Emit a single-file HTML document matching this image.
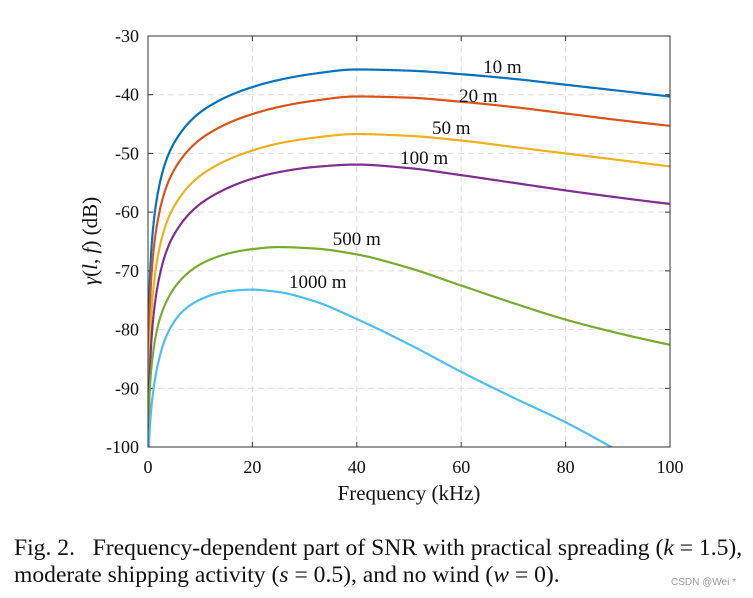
<!DOCTYPE html>
<html><head><meta charset="utf-8"><style>
body{margin:0;background:#fff;width:753px;height:598px;overflow:hidden;font-family:"Liberation Serif",serif}
svg{position:absolute;left:0;top:0}
.cap{position:absolute;left:14px;font-size:23.6px;color:#111;white-space:nowrap;line-height:27px}
</style></head><body>
<svg id="chart" width="753" height="598"></svg>
<div class="cap" style="top:535px">Fig. 2.&nbsp;&nbsp; Frequency-dependent part of SNR with practical spreading (<i>k</i> = 1.5),</div>
<div class="cap" style="top:562px">moderate shipping activity (<i>s</i> = 0.5), and no wind (<i>w</i> = 0).</div>
<div style="position:absolute;left:671px;top:577px;font:10px 'Liberation Sans',sans-serif;color:#999">CSDN @Wei *</div>
<script>
const freqs=[0.1,0.3,0.6,1,1.5,2,3,4,6,8,10,13,16,20,25,32,40,50,60,70,80,90,100];
const s10=[-95,-74,-67,-62.5,-58.8,-56.2,-52.5,-50,-46.8,-44.6,-43,-41.3,-40,-38.7,-37.5,-36.4,-35.7,-35.9,-36.5,-37.3,-38.3,-39.3,-40.3];
const s20=[-100,-78.6,-71.6,-67.1,-63.4,-60.8,-57.1,-54.6,-51.4,-49.2,-47.6,-45.9,-44.6,-43.3,-42.1,-41,-40.3,-40.5,-41.2,-42.1,-43.2,-44.3,-45.3];
const s50=[-106,-84.8,-77.8,-73.3,-69.6,-67,-63.3,-60.8,-57.6,-55.4,-53.8,-52.1,-50.8,-49.5,-48.3,-47.3,-46.7,-47,-47.8,-48.9,-50,-51.1,-52.2];
const s100=[-110,-89.6,-82.6,-78.1,-74.4,-71.8,-68.1,-65.6,-62.4,-60.2,-58.6,-56.9,-55.6,-54.3,-53.2,-52.3,-51.9,-52.5,-53.7,-55,-56.3,-57.5,-58.6];
const s500=[-96,-91,-87,-83.8,-81,-79,-76.3,-74.4,-71.8,-70.1,-68.9,-67.7,-66.9,-66.3,-65.95,-66.2,-67.2,-69.5,-72.5,-75.5,-78.3,-80.6,-82.6];
const s1000=[-103,-97.5,-93.8,-90.5,-87.6,-85.5,-82.3,-80.2,-77.5,-75.9,-74.9,-73.9,-73.4,-73.2,-73.6,-75.2,-78.2,-82.5,-87.2,-91.6,-95.8,-100.6,-105.5];
const seriesNames=["10 m","20 m","50 m","100 m","500 m","1000 m"];
const xTicks=[0,20,40,60,80,100];
const yTicks=[-30,-40,-50,-60,-70,-80,-90,-100];
const colors=["#0072bd","#d95319","#edb120","#7e2f8e","#77ac30","#4dbeee"];
const labelPos=[[64.2,-36.3],[59.6,-41.2],[54.4,-46.7],[48.3,-51.8],[35.4,-65.6],[27,-72.9]];
const X0=148,X1=670,Y0=36,Y1=447;
const sx=f=>X0+(f-0)/(100-0)*(X1-X0);
const sy=v=>Y0+(-30-v)/(70)*(Y1-Y0);
const svg=document.getElementById('chart');const NS='http://www.w3.org/2000/svg';
function mk(t,a,p){const e=document.createElementNS(NS,t);for(const k in a)e.setAttribute(k,a[k]);(p||svg).appendChild(e);return e;}
const defs=mk('defs',{});const cp=mk('clipPath',{id:'clip'},defs);mk('rect',{x:X0,y:Y0-2,width:X1-X0,height:Y1-Y0+2},cp);
for(const t of xTicks){if(t>0&&t<100){const g=mk('line',{x1:sx(t),x2:sx(t),y1:Y0,y2:Y1,stroke:'#dcdcdc','stroke-dasharray':'6,4'});
}
mk('line',{x1:sx(t),x2:sx(t),y1:Y1,y2:Y1-5,stroke:'#333'});mk('line',{x1:sx(t),x2:sx(t),y1:Y0,y2:Y0+5,stroke:'#333'});
const l=mk('text',{x:sx(t),y:Y1+26,'text-anchor':'middle','font-size':'18',fill:'#111'});l.textContent=t;
}
for(const t of yTicks){if(t<-30&&t>-100){const g=mk('line',{x1:X0,x2:X1,y1:sy(t),y2:sy(t),stroke:'#dcdcdc','stroke-dasharray':'6,4'});
}
mk('line',{x1:X0,x2:X0+5,y1:sy(t),y2:sy(t),stroke:'#333'});mk('line',{x1:X1,x2:X1-5,y1:sy(t),y2:sy(t),stroke:'#333'});
const l=mk('text',{x:X0-9,y:sy(t)+6,'text-anchor':'end','font-size':'18',fill:'#111'});l.textContent=t;
}
function mono(xs,ys){const n=xs.length,d=[],m=new Array(n);
for(let i=0;i<n-1;i++)d.push((ys[i+1]-ys[i])/(xs[i+1]-xs[i]));
m[0]=d[0];m[n-1]=d[n-2];
for(let i=1;i<n-1;i++){if(d[i-1]*d[i]<=0)m[i]=0;else{const h0=xs[i]-xs[i-1],h1=xs[i+1]-xs[i];const w1=2*h1+h0,w2=h1+2*h0;m[i]=(w1+w2)/(w1/d[i-1]+w2/d[i]);}}
return x=>{let i=0;while(i<n-2&&x>xs[i+1])i++;const h=xs[i+1]-xs[i],t=(x-xs[i])/h;
const h00=2*t*t*t-3*t*t+1,h10=t*t*t-2*t*t+t,h01=-2*t*t*t+3*t*t,h11=t*t*t-t*t;
return h00*ys[i]+h10*h*m[i]+h01*ys[i+1]+h11*h*m[i+1];};}
const series=[s10,s20,s50,s100,s500,s1000];
const lf=freqs.map(f=>Math.log(f));
series.forEach((s,i)=>{const fn=mono(lf,s);let d='';
const a=lf[0],b=lf[lf.length-1];
for(let k=0;k<=1500;k++){const u=a+(b-a)*k/1500;const f=Math.exp(u);
d+=(k?' L':'M')+sx(f).toFixed(2)+','+sy(fn(u)).toFixed(2);}
const path=mk('path',{d:d,fill:'none',stroke:colors[i],'stroke-width':'2.2','clip-path':'url(#clip)'});


const t=mk('text',{x:sx(labelPos[i][0]),y:sy(labelPos[i][1]),'font-size':'19',fill:'#111'});t.textContent=seriesNames[i];

});
const fr=mk('rect',{x:X0,y:Y0,width:X1-X0,height:Y1-Y0,fill:'none',stroke:'#333','stroke-width':'1'});

const xt=mk('text',{x:(X0+X1)/2,y:500,'text-anchor':'middle','font-size':'21',fill:'#111'});xt.textContent='Frequency (kHz)';

const yt=mk('text',{x:0,y:0,'text-anchor':'middle','font-size':'21',fill:'#111',transform:'translate(97,241) rotate(-90)'});
yt.innerHTML='<tspan font-style="italic">γ</tspan>(<tspan font-style="italic">l</tspan>, <tspan font-style="italic">f</tspan>) (dB)';

</script>
</body></html>
